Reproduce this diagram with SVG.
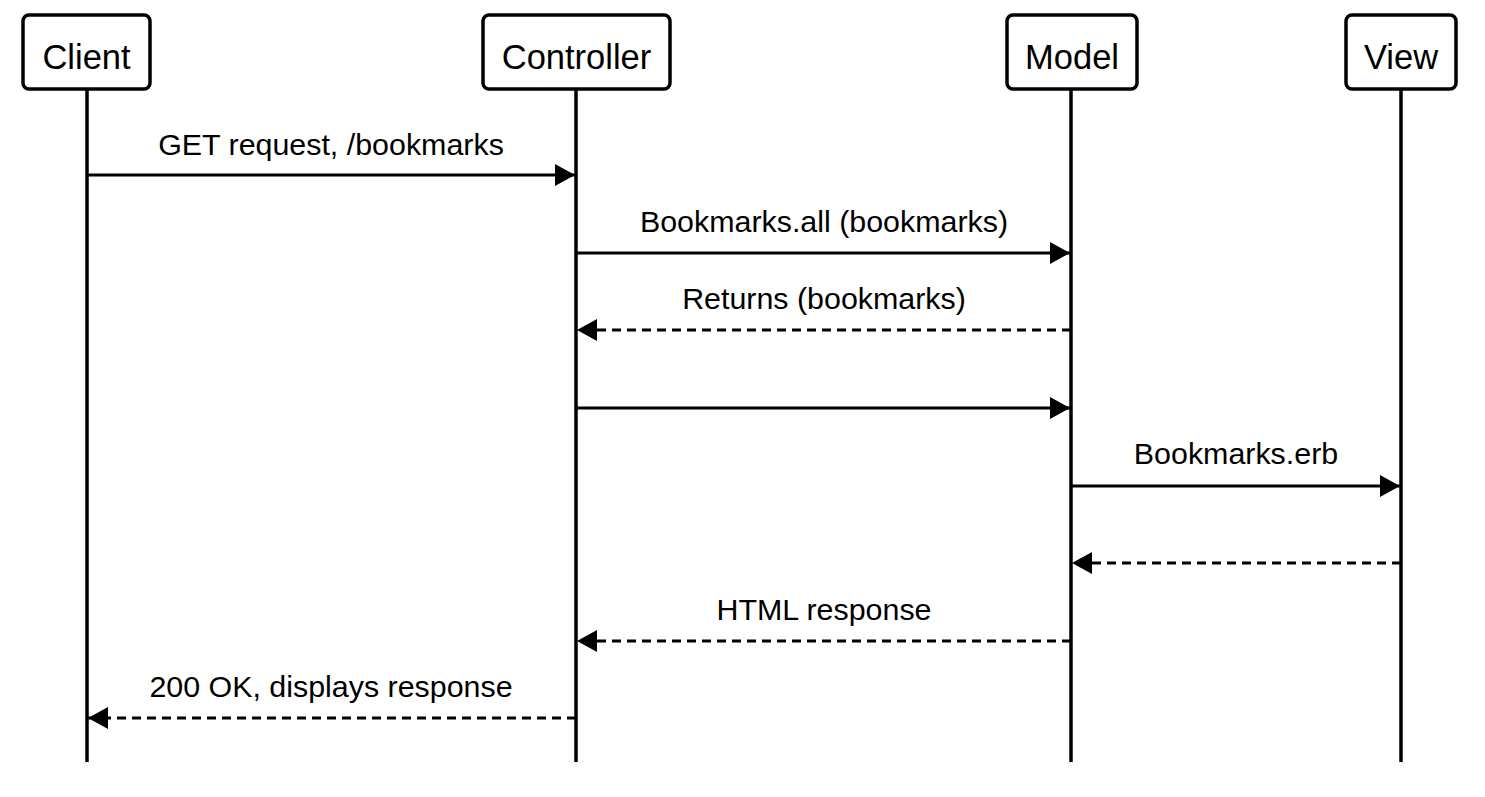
<svg xmlns="http://www.w3.org/2000/svg" width="1485" height="797" viewBox="0 0 1485 797">
<style>
.box{fill:#fff;stroke:#000;stroke-width:3.5}
.life{stroke:#000;stroke-width:3.5;fill:none}
.hdr{font-family:"Liberation Sans",Arial,sans-serif;font-size:34.5px;fill:#000;text-anchor:middle}
.lbl{font-family:"Liberation Sans",Arial,sans-serif;font-size:30.4px;fill:#000;text-anchor:middle}
.msg{stroke:#000;stroke-width:3;fill:none}
.dash{stroke-dasharray:9,6}
</style>
<defs>
<marker id="ah" viewBox="0 0 20 22" refX="20" refY="11" markerWidth="20" markerHeight="22" markerUnits="userSpaceOnUse" orient="auto">
<path d="M0,0 L20,11 L0,22 Z" fill="#000"/>
</marker>
</defs>
<g id="client">
<line class="life" x1="87" y1="88" x2="87" y2="762"/>
<rect class="box" x="23" y="15" width="127" height="74" rx="6"/>
<text class="hdr" x="86.5" y="69">Client</text>
</g>
<g id="controller">
<line class="life" x1="576" y1="88" x2="576" y2="762"/>
<rect class="box" x="483" y="15" width="187" height="74" rx="6"/>
<text class="hdr" x="576.5" y="69">Controller</text>
</g>
<g id="model">
<line class="life" x1="1071" y1="88" x2="1071" y2="762"/>
<rect class="box" x="1007" y="15" width="130" height="74" rx="6"/>
<text class="hdr" x="1072" y="69">Model</text>
</g>
<g id="view">
<line class="life" x1="1401" y1="88" x2="1401" y2="762"/>
<rect class="box" x="1346" y="15" width="110" height="74" rx="6"/>
<text class="hdr" x="1401" y="69">View</text>
</g>
<g id="connectors">
<line class="msg" x1="87" y1="175" x2="575" y2="175" marker-end="url(#ah)"/>
<text class="lbl" x="331" y="155">GET request, /bookmarks</text>
<line class="msg" x1="576" y1="253" x2="1070" y2="253" marker-end="url(#ah)"/>
<text class="lbl" x="824" y="232">Bookmarks.all (bookmarks)</text>
<line class="msg dash" x1="1071" y1="330" x2="577" y2="330" marker-end="url(#ah)"/>
<text class="lbl" x="824" y="309">Returns (bookmarks)</text>
<line class="msg" x1="576" y1="408" x2="1070" y2="408" marker-end="url(#ah)"/>
<line class="msg" x1="1071" y1="486" x2="1400" y2="486" marker-end="url(#ah)"/>
<text class="lbl" x="1236" y="464">Bookmarks.erb</text>
<line class="msg dash" x1="1401" y1="563" x2="1072" y2="563" marker-end="url(#ah)"/>
<line class="msg dash" x1="1071" y1="641" x2="577" y2="641" marker-end="url(#ah)"/>
<text class="lbl" x="824" y="620">HTML response</text>
<line class="msg dash" x1="576" y1="718" x2="88" y2="718" marker-end="url(#ah)"/>
<text class="lbl" x="331" y="697">200 OK, displays response</text>
</g>
</svg>
